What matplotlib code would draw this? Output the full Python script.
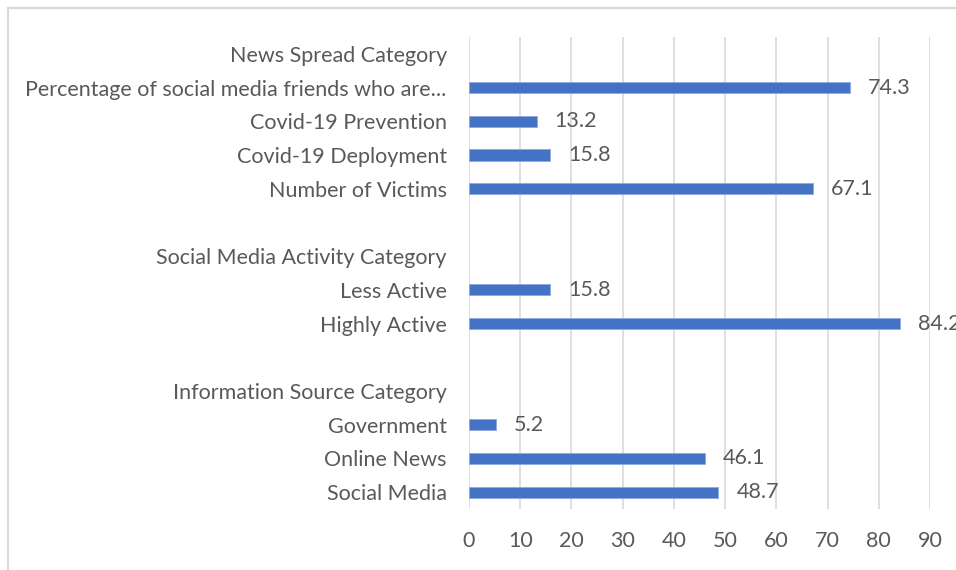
import matplotlib
matplotlib.use("Agg")
import matplotlib.pyplot as plt
from matplotlib.patches import Rectangle
import numpy as np

# Rows listed bottom to top; None marks heading / spacer rows without a bar
labels = [
    "Social Media",
    "Online News",
    "Government",
    "Information Source Category",
    "",
    "Highly Active",
    "Less Active",
    "Social Media Activity Category",
    "",
    "Number of Victims",
    "Covid-19 Deployment",
    "Covid-19 Prevention",
    "Percentage of social media friends who are...",
    "News Spread Category",
]
values = [48.7, 46.1, 5.2, None, None, 84.2, 15.8, None, None,
          67.1, 15.8, 13.2, 74.3, None]
x_ticks = [0, 10, 20, 30, 40, 50, 60, 70, 80, 90]

plt.rcParams["font.family"] = ["Lato", "DejaVu Sans"]
text_color = "#595959"
bar_color = "#4472C4"
fs = 15.5

W, H = 956, 570
fig = plt.figure(figsize=(W / 100, H / 100), dpi=100)
fig.patches.append(Rectangle((8 / W, -0.1), 1.2, 1 - 8 / H + 0.1,
                             transform=fig.transFigure, fill=False,
                             edgecolor="#d9d9d9", linewidth=1.5))

ax = fig.add_axes([469 / W, 1 - 509 / H, (930 - 469) / W, (509 - 37) / H])

y = np.arange(len(labels))
for yi, v in zip(y, values):
    if v is None:
        continue
    ax.barh(yi, v, height=0.33, color=bar_color, edgecolor="#8fa9dc",
            linewidth=0.6, zorder=3)
    ax.annotate(f"{v:.1f}", (v, yi), xytext=(13, 0), textcoords="offset points",
                va="center", ha="left", fontsize=fs, color=text_color,
                zorder=4, annotation_clip=False)

ax.set_xlim(0, 90)
ax.set_ylim(-0.5, len(labels) - 0.5)
ax.set_yticks(y)
ax.set_yticklabels(labels, fontsize=fs, color=text_color)
ax.set_xticks(x_ticks)
ax.set_xticklabels([str(t) for t in x_ticks], fontsize=fs, color=text_color)
ax.tick_params(axis="y", length=0, pad=16)
ax.tick_params(axis="x", length=0, pad=16)
ax.grid(axis="x", color="#d9d9d9", linewidth=1.2, zorder=0)
for s in ax.spines.values():
    s.set_visible(False)

fig.savefig("out.png", dpi=100)
